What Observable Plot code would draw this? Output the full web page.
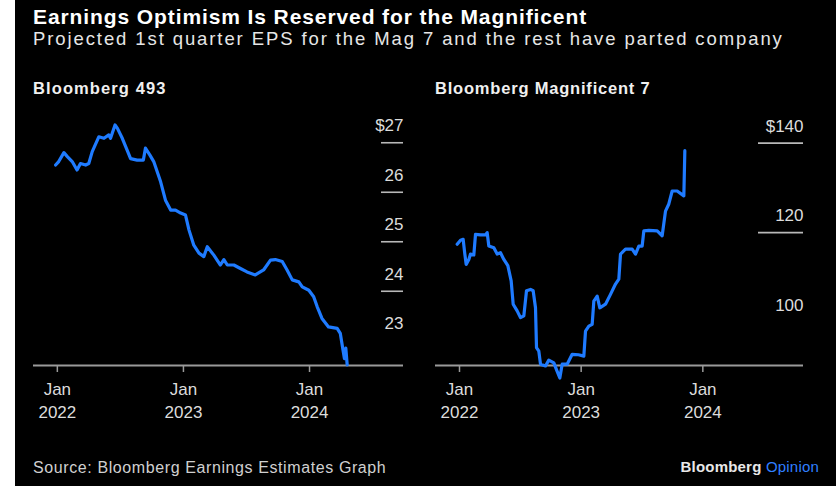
<!DOCTYPE html>
<html>
<head>
<meta charset="utf-8">
<script src="https://cdn.jsdelivr.net/npm/d3@7"></script>
<script src="https://cdn.jsdelivr.net/npm/@observablehq/plot@0.6"></script>
<style>
  html, body { margin: 0; padding: 0; background: #fff; }
  body { width: 838px; height: 486px; position: relative; overflow: hidden; font-family: "Liberation Sans", Arial, sans-serif; }
  #panel { position: absolute; left: 15px; top: 0; width: 821px; height: 486px; background: #000; }
  .abs { position: absolute; white-space: nowrap; }
  #title { left: 33px; top: 7.7px; font-size: 21px; line-height: 17px; letter-spacing: 0.9px; font-weight: bold; color: #fff; }
  #subtitle { left: 33px; top: 30.6px; font-size: 18.5px; line-height: 16px; letter-spacing: 1.9px; color: #e6e6e6; }
  .ptitle { top: 80px; font-size: 16.5px; line-height: 16.5px; letter-spacing: 0.8px; font-weight: bold; color: #f0f0f0; }
  #source { left: 33px; top: 460px; font-size: 16px; line-height: 16px; letter-spacing: 0.6px; color: #d0d0d0; }
  #brand { right: 19px; top: 459px; font-size: 15px; line-height: 15px; letter-spacing: 0.2px; font-weight: bold; color: #e8e8e8; }
  #brand span { color: #2f7fff; font-weight: normal; }
  #left { left: 15px; top: 100px; }
  #right { left: 420px; top: 100px; }
</style>
</head>
<body>
<div id="panel"></div>
<div id="title" class="abs">Earnings Optimism Is Reserved for the Magnificent</div>
<div id="subtitle" class="abs">Projected 1st quarter EPS for the Mag 7 and the rest have parted company</div>
<div class="abs ptitle" style="left:33px; letter-spacing:1.1px">Bloomberg 493</div>
<div class="abs ptitle" style="left:435px">Bloomberg Magnificent 7</div>
<div id="left" class="abs"></div>
<div id="right" class="abs"></div>
<div id="source" class="abs">Source: Bloomberg Earnings Estimates Graph</div>
<div id="brand" class="abs">Bloomberg <span>Opinion</span></div>
<script>
// ---- Data: Bloomberg 493 projected Q1 EPS ----
const b493Dates = [
  "2021-12-27","2022-01-05","2022-01-20","2022-01-30","2022-02-13","2022-02-27","2022-03-09","2022-03-24",
  "2022-04-02","2022-04-12","2022-05-01","2022-05-16","2022-05-30","2022-06-04","2022-06-17","2022-06-24",
  "2022-07-08","2022-07-22","2022-08-01","2022-08-20","2022-09-07","2022-09-13","2022-09-26","2022-10-07",
  "2022-10-27","2022-11-10","2022-11-25","2022-12-09","2022-12-24","2023-01-07","2023-01-17","2023-01-31",
  "2023-02-15","2023-03-01","2023-03-11","2023-03-30","2023-04-18","2023-04-28","2023-05-08","2023-05-27",
  "2023-06-15","2023-07-04","2023-07-28","2023-08-21","2023-09-10","2023-09-24","2023-10-14","2023-10-28",
  "2023-11-12","2023-12-01","2023-12-11","2023-12-30","2024-01-13","2024-01-23","2024-02-06","2024-02-25",
  "2024-03-21","2024-03-30","2024-04-07","2024-04-11","2024-04-15","2024-04-19"
];
const b493Values = [
  26.55, 26.62, 26.80, 26.72, 26.62, 26.45, 26.58, 26.55,
  26.58, 26.82, 27.12, 27.09, 27.16, 27.09, 27.36, 27.29,
  27.09, 26.85, 26.68, 26.65, 26.65, 26.89, 26.75, 26.62,
  26.21, 25.84, 25.64, 25.64, 25.58, 25.54, 25.24, 24.93,
  24.77, 24.70, 24.90, 24.73, 24.53, 24.64, 24.53, 24.53,
  24.46, 24.39, 24.33, 24.43, 24.63, 24.64, 24.60, 24.43,
  24.23, 24.19, 24.09, 24.02, 23.89, 23.69, 23.45, 23.28,
  23.25, 23.15, 22.81, 22.64, 22.85, 22.51
];

// ---- Data: Bloomberg Magnificent 7 projected Q1 EPS ----
const mag7Dates = [
  "2021-12-25","2022-01-04","2022-01-12","2022-01-17","2022-01-21","2022-01-29","2022-02-03","2022-02-13",
  "2022-02-18","2022-03-05","2022-03-20","2022-03-25","2022-03-30","2022-04-14","2022-04-24","2022-05-04",
  "2022-05-14","2022-05-26","2022-06-05","2022-06-11","2022-06-23","2022-07-03","2022-07-13","2022-07-21",
  "2022-08-02","2022-08-10","2022-08-17","2022-08-20","2022-08-27","2022-09-01","2022-09-16","2022-09-26",
  "2022-10-11","2022-10-21","2022-10-29","2022-11-05","2022-11-20","2022-12-05","2022-12-24","2023-01-09",
  "2023-01-14","2023-01-24","2023-02-03","2023-02-08","2023-02-18","2023-02-26","2023-03-15","2023-03-30",
  "2023-04-14","2023-04-24","2023-04-29","2023-05-14","2023-06-03","2023-06-13","2023-06-23","2023-07-03",
  "2023-07-08","2023-07-23","2023-08-17","2023-09-01","2023-09-11","2023-09-21","2023-10-01","2023-10-16",
  "2023-11-05","2023-11-08"
];
const mag7Values = [
  117.4, 118.3, 118.5, 115.2, 112.9, 114.0, 115.2, 115.0,
  119.6, 119.5, 119.5, 120.0, 117.0, 116.6, 115.2, 115.5,
  114.0, 112.6, 109.2, 104.0, 102.5, 101.0, 101.4, 107.0,
  107.3, 107.0, 103.2, 94.3, 93.5, 90.6, 90.2, 91.5,
  90.9, 89.0, 87.5, 90.6, 90.6, 92.8, 92.7, 92.4,
  98.0, 99.1, 99.5, 104.7, 105.8, 103.2, 104.0, 106.2,
  108.5, 109.6, 115.2, 116.3, 116.3, 115.2, 117.0, 117.0,
  120.4, 120.5, 120.4, 119.3, 124.8, 126.4, 129.3, 129.3,
  128.2, 138.3
];

// ---- Axis ticks ----
const xTickDates = ["2022-01-01", "2023-01-01", "2024-01-01"];
const b493TickLines = [24, 25, 26, 27];
const b493TickLabels = [23, 24, 25, 26, 27];
const mag7TickLines = [120, 140];
const mag7TickLabels = [100, 120, 140];

const parse = d3.utcParse("%Y-%m-%d");
const b493 = b493Dates.map((d, i) => ({date: parse(d), value: b493Values[i]}));
const mag7 = mag7Dates.map((d, i) => ({date: parse(d), value: mag7Values[i]}));
const xTicks = xTickDates.map(parse);

function panel({data, width, marginLeft, xDomain, yDomain, tickLines, tickLabels, topLabel, lineInset}) {
  const fmt = v => v === topLabel ? "$" + v : String(v);
  return Plot.plot({
    width, height: 320,
    marginLeft, marginRight: 17, marginTop: 18, marginBottom: 55,
    style: {background: "transparent", fontFamily: "'Liberation Sans', Arial, sans-serif", overflow: "visible"},
    x: {type: "utc", domain: xDomain},
    y: {domain: yDomain, axis: null},
    marks: [
      Plot.ruleY(tickLines, {y: d => d, insetLeft: lineInset, stroke: "#b8b8b8", strokeWidth: 1.6}),
      Plot.text(tickLabels, {y: d => d, text: fmt, frameAnchor: "right", textAnchor: "end", dy: -17, fill: "#dcdcdc", fontSize: 17, style: {letterSpacing: "0.7px"}}),
      Plot.axisX({ticks: xTicks, tickFormat: () => "", tickSize: 7, stroke: "#9a9a9a", strokeWidth: 1.5}),
      Plot.axisX({ticks: xTicks, tickSize: 0, tickPadding: 13, fill: "#dcdcdc", fontSize: 17, lineHeight: 1.35,
        tickFormat: d => "Jan\n" + d.getUTCFullYear()}),
      Plot.ruleY([yDomain[0]], {stroke: "#9a9a9a", strokeWidth: 2}),
      Plot.lineY(data, {x: "date", y: "value", stroke: "#1f7bff", strokeWidth: 3.2, curve: "linear"})
    ]
  });
}

document.getElementById("left").append(panel({
  data: b493, width: 405, marginLeft: 18,
  xDomain: [parse("2021-10-24"), parse("2024-09-29")],
  yDomain: [22.5, 27.49],
  tickLines: b493TickLines, tickLabels: b493TickLabels, topLabel: 27, lineInset: 348
}));
document.getElementById("right").append(panel({
  data: mag7, width: 400, marginLeft: 15,
  xDomain: [parse("2021-10-21"), parse("2024-10-29")],
  yDomain: [90.3, 145.5],
  tickLines: mag7TickLines, tickLabels: mag7TickLabels, topLabel: 140, lineInset: 323
}));
</script>
</body>
</html>
